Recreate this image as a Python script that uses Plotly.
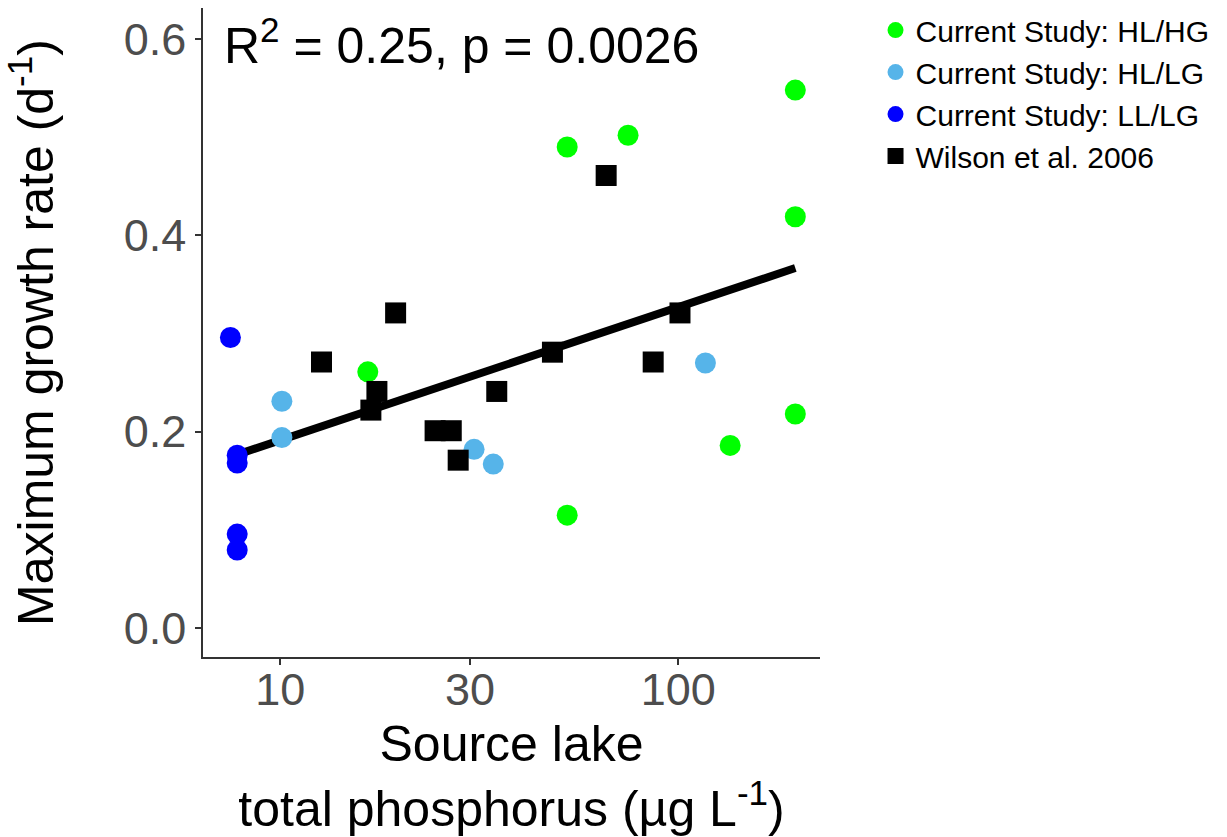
import numpy as np
import plotly.graph_objects as go

# ---- data ----
hlhg_tp = [16.6, 52.6, 52.6, 74.8, 135, 196.8, 196.8, 196.8]
hlhg_mu = [0.261, 0.490, 0.115, 0.502, 0.186, 0.548, 0.419, 0.218]

hllg_tp = [10.1, 10.1, 30.7, 34.3, 117]
hllg_mu = [0.231, 0.194, 0.182, 0.167, 0.270]

lllg_tp = [7.5, 7.8, 7.8, 7.8, 7.8]
lllg_mu = [0.296, 0.176, 0.168, 0.0957, 0.0795]

wilson_tp = [12.7, 16.9, 17.5, 19.5, 24.5, 26.9, 28.0, 35.0, 48.3, 65.9, 86.5, 101]
wilson_mu = [0.271, 0.222, 0.241, 0.321, 0.201, 0.201, 0.171, 0.241, 0.281, 0.461, 0.271, 0.321]

x_ticks = [10, 30, 100]
y_ticks = [0.0, 0.2, 0.4, 0.6]
annot_text = "R<sup>2</sup> = 0.25, p = 0.0026"

# ---- regression on log10(TP) using all points ----
all_x = np.array(hlhg_tp + hllg_tp + lllg_tp + wilson_tp, dtype=float)
all_y = np.array(hlhg_mu + hllg_mu + lllg_mu + wilson_mu, dtype=float)
slope, intercept = np.polyfit(np.log10(all_x), all_y, 1)
fit_x = np.array([all_x.min(), all_x.max()])
fit_y = intercept + slope * np.log10(fit_x)

FONT = "Arial, Liberation Sans, sans-serif"

fig = go.Figure()
fig.add_trace(go.Scatter(x=fit_x, y=fit_y, mode="lines",
                         line=dict(color="black", width=8), showlegend=False,
                         hoverinfo="skip"))
fig.add_trace(go.Scatter(x=hlhg_tp, y=hlhg_mu, mode="markers", name="Current Study: HL/HG",
                         marker=dict(symbol="circle", size=21, color="#00FF00")))
fig.add_trace(go.Scatter(x=hllg_tp, y=hllg_mu, mode="markers", name="Current Study: HL/LG",
                         marker=dict(symbol="circle", size=21, color="#56B4E9")))
fig.add_trace(go.Scatter(x=lllg_tp, y=lllg_mu, mode="markers", name="Current Study: LL/LG",
                         marker=dict(symbol="circle", size=21, color="#0000FF")))
fig.add_trace(go.Scatter(x=wilson_tp, y=wilson_mu, mode="markers", name="Wilson et al. 2006",
                         marker=dict(symbol="square", size=21, color="black")))

fig.add_annotation(text=annot_text, xref="paper", yref="paper", x=0.03, y=1.0,
                   xanchor="left", yanchor="top", showarrow=False,
                   font=dict(family=FONT, size=50, color="black"))

fig.update_layout(
    width=1227, height=837,
    margin=dict(l=203, r=407, t=8, b=180, autoexpand=False),
    paper_bgcolor="white", plot_bgcolor="white",
    font=dict(family=FONT, color="black"),
    legend=dict(x=1.09, y=1.006, xanchor="left", yanchor="top",
                font=dict(family=FONT, size=30, color="black"),
                bgcolor="rgba(0,0,0,0)", itemsizing="trace"),
    xaxis=dict(type="log", range=[np.log10(6.4), np.log10(227)],
               tickvals=x_ticks, ticktext=[str(v) for v in x_ticks],
               tickfont=dict(family=FONT, size=45, color="#4D4D4D"),
               ticks="outside", ticklen=6, tickcolor="#333333", tickwidth=1.5,
               ticklabelstandoff=-14,
               showline=True, linecolor="#333333", linewidth=1.5,
               showgrid=False, zeroline=False,
               title=dict(text="Source lake<br>total phosphorus (µg L<sup>-1</sup>)",
                          font=dict(family=FONT, size=50, color="black"), standoff=20)),
    yaxis=dict(range=[-0.0295, 0.6316],
               tickvals=y_ticks, ticktext=[f"{v:.1f}" for v in y_ticks],
               tickfont=dict(family=FONT, size=45, color="#4D4D4D"),
               ticks="outside", ticklen=6, tickcolor="#333333", tickwidth=1.5,
               showline=True, linecolor="#333333", linewidth=1.5,
               showgrid=False, zeroline=False,
               title=dict(text="Maximum growth rate (d<sup>-1</sup>)",
                          font=dict(family=FONT, size=50, color="black"), standoff=60)),
)

fig.write_html("out.html")
